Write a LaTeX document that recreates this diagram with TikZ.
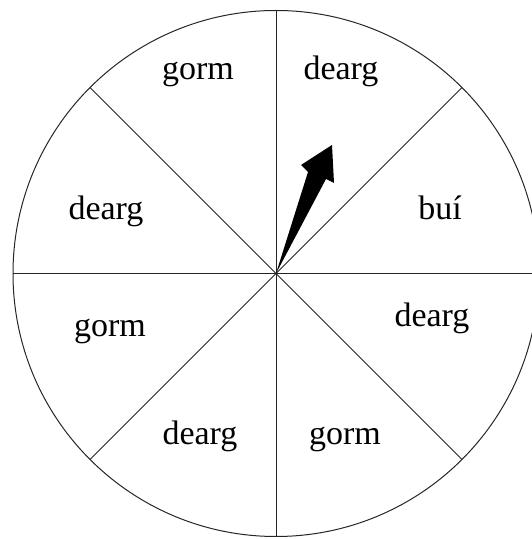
\documentclass[tikz,border=0pt]{standalone}
\usepackage{fontspec}
\setmainfont{Liberation Serif}
\begin{document}
\begin{tikzpicture}[x=1pt,y=1pt,
  rim/.style={draw=black!85,line width=1pt},
  spoke/.style={draw=black!85,line width=1pt},
  lab/.style={anchor=base,inner sep=0pt,font=\fontsize{34}{36}\selectfont}]
\useasboundingbox (0,0) rectangle (531,539);
\coordinate (c) at (276,265.5);
\draw[rim] (c) circle[radius=263];
\foreach \a in {0,45,...,315} {\draw[spoke] (c) -- ++(\a:263);}
\node[lab] (l1) at (198,459) {gorm};
\node[lab] (l2) at (341,459) {dearg};
\node[lab] (l3) at (440,319) {buí};
\node[lab] (l4) at (432,212) {dearg};
\node[lab] (l5) at (345,94) {gorm};
\node[lab] (l6) at (200,94) {dearg};
\node[lab] (l7) at (110,202) {gorm};
\node[lab] (l8) at (106,319) {dearg};
\fill[black] (c) -- (308,367) -- (301,374) -- (332,394) -- (334,356) -- (326,360) -- cycle;
\end{tikzpicture}
\end{document}
